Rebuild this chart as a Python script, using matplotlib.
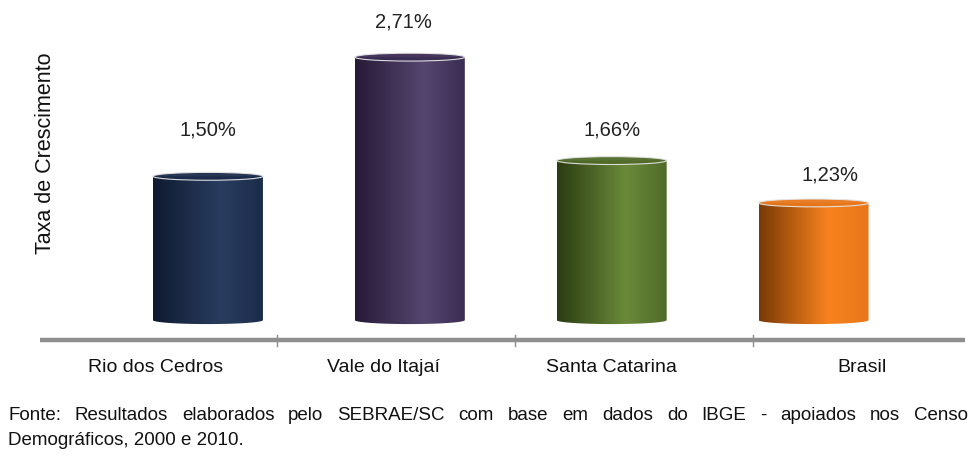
import numpy as np
import matplotlib
matplotlib.use("Agg")
from matplotlib import pyplot as plt
from matplotlib.path import Path
from matplotlib.patches import PathPatch, Ellipse
from matplotlib.colors import LinearSegmentedColormap

# data
categories = ["Rio dos Cedros", "Vale do Itajaí", "Santa Catarina", "Brasil"]
values = [1.50, 2.71, 1.66, 1.23]
value_labels = ["1,50%", "2,71%", "1,66%", "1,23%"]
# shading stops for each cylinder: left, peak, right
shades = [
    ["#0f1a30", "#2a3d60", "#1b2b4a"],
    ["#271a38", "#54466e", "#3a2c52"],
    ["#2c3c12", "#6a8a3a", "#506a28"],
    ["#7a3a05", "#f7821f", "#e8771a"],
]
ylabel = "Taxa de Crescimento"
fonte1 = "Fonte: Resultados elaborados pelo SEBRAE/SC com base em dados do IBGE - apoiados nos Censo"
fonte2 = "Demográficos, 2000 e 2010."

fam = ["Liberation Sans", "DejaVu Sans"]

fig = plt.figure(figsize=(9.71, 4.61), dpi=100)
ax = fig.add_axes([0, 0, 1, 1])
ax.set_xlim(-1.03, 3.78)
ax.set_ylim(-1.43, 3.25)
ax.axis("off")

xpos = np.arange(len(values))
width = 0.545
eh = 0.08  # ellipse height (data units)
lab_off = [0.43, 0.32, 0.27, 0.24]   # label gap above each cylinder (perspective)
lab_dx = [0.0, -0.03, 0.0, 0.08]

for i, (x, v) in enumerate(zip(xpos, values)):
    l, r = x - width / 2, x + width / 2
    # body outline with rounded bottom
    t = np.linspace(np.pi, 2 * np.pi, 40)
    bx = x + width / 2 * np.cos(t)
    by = 0 + eh / 2 * np.sin(t)
    verts = [(l, v - eh / 2)] + list(zip(bx, by)) + [(r, v - eh / 2), (l, v - eh / 2)]
    codes = [Path.MOVETO] + [Path.LINETO] * (len(verts) - 2) + [Path.CLOSEPOLY]
    body = PathPatch(Path(verts, codes), facecolor="none", edgecolor="none")
    ax.add_patch(body)
    cmap = LinearSegmentedColormap.from_list(
        "c%d" % i, [(0, shades[i][0]), (0.62, shades[i][1]), (1, shades[i][2])])
    grad = np.linspace(0, 1, 200).reshape(1, -1)
    im = ax.imshow(grad, cmap=cmap, extent=[l, r, -eh, v], aspect="auto",
                   interpolation="bilinear", zorder=2)
    im.set_clip_path(body)
    # top cap
    cap = Ellipse((x, v - eh / 2), width, eh, facecolor=shades[i][2],
                  edgecolor="#e4e4e4", linewidth=0.8, alpha=0.95, zorder=3)
    ax.add_patch(cap)
    ax.text(x + lab_dx[i], v + lab_off[i], value_labels[i], ha="center", va="center",
            fontsize=14.5, family=fam, color="#222222")

# floor line with dividers
ax.plot([-0.83, 3.75], [-0.2, -0.2], color="#8e8e8e", lw=3.2, solid_capstyle="butt", zorder=1)
for bx_ in [0.34, 1.52, 2.70]:
    ax.plot([bx_, bx_], [-0.15, -0.26], color="#8e8e8e", lw=1, zorder=1)

label_x = [-0.26, 0.87, 2.0, 3.24]
for lx, c in zip(label_x, categories):
    ax.text(lx, -0.48, c, ha="center", va="center", fontsize=14, family=fam, color="#111111")

fig.text(0.047, 1 - 153 / 461, ylabel, rotation=90, ha="center", va="center",
         fontsize=15.5, family=fam, color="#111111")

# justified first footnote line
fig.canvas.draw()
rend = fig.canvas.get_renderer()
words = fonte1.split(" ")
x0, x1 = 8 / 971, 968 / 971
arts = [fig.text(0, 1 - 415 / 461, w, fontsize=13.5, family=fam, color="#111111",
                 va="center", ha="left") for w in words]
ws = [a.get_window_extent(rend).width / 971 for a in arts]
gap = (x1 - x0 - sum(ws)) / (len(words) - 1)
cx = x0
for a, w in zip(arts, ws):
    a.set_x(cx)
    cx += w + gap
fig.text(x0, 1 - 440 / 461, fonte2, fontsize=13.5, family=fam, color="#111111",
         va="center", ha="left")

fig.savefig("out.png", dpi=100)
